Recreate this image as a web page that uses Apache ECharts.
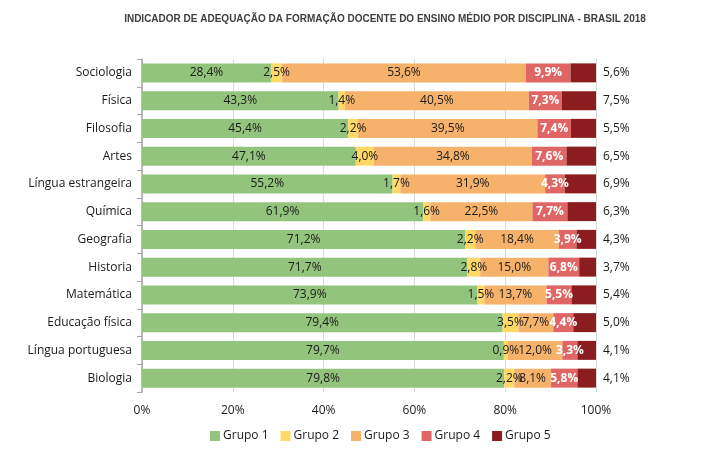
<!DOCTYPE html>
<html>
<head>
<meta charset="utf-8">
<script src="https://cdn.jsdelivr.net/npm/echarts@6/dist/echarts.min.js"></script>
<style>html,body{margin:0;padding:0;background:#fff}#c{width:706px;height:459px}</style>
</head>
<body>
<div id="c"></div>
<script>
const titleText = 'INDICADOR DE ADEQUAÇÃO DA FORMAÇÃO DOCENTE DO ENSINO MÉDIO POR DISCIPLINA - BRASIL 2018';
const categories = ['Sociologia','Física','Filosofia','Artes','Língua estrangeira','Química','Geografia','Historia','Matemática','Educação física','Língua portuguesa','Biologia'];
const seriesNames = ['Grupo 1','Grupo 2','Grupo 3','Grupo 4','Grupo 5'];
const grupo1 = [28.4,43.3,45.4,47.1,55.2,61.9,71.2,71.7,73.9,79.4,79.7,79.8];
const grupo2 = [2.5,1.4,2.2,4.0,1.7,1.6,2.2,2.8,1.5,3.5,0.9,2.2];
const grupo3 = [53.6,40.5,39.5,34.8,31.9,22.5,18.4,15.0,13.7,7.7,12.0,8.1];
const grupo4 = [9.9,7.3,7.4,7.6,4.3,7.7,3.9,6.8,5.5,4.4,3.3,5.8];
const grupo5 = [5.6,7.5,5.5,6.5,6.9,6.3,4.3,3.7,5.4,5.0,4.1,4.1];
const xTicks = [0,20,40,60,80,100];
const colors = ['#93c47d','#ffd966','#f6b26b','#e06666','#8b1c1f'];

const allData = [grupo1,grupo2,grupo3,grupo4,grupo5];
const fmt = p => p.value.toFixed(1).replace('.', ',') + '%';
const font = "'Open Sans', 'Liberation Sans', sans-serif";

const series = allData.map((d,i) => ({
  name: seriesNames[i],
  type: 'bar',
  stack: 'total',
  data: d,
  barWidth: 19,
  itemStyle: {color: colors[i]},
  label: {
    show: true,
    position: i === 4 ? 'right' : 'inside',
    distance: 7,
    formatter: fmt,
    fontFamily: font,
    fontSize: 12,
    color: i === 3 ? '#ffffff' : '#1a1a1a',
    fontWeight: i === 3 ? 'bold' : 'normal'
  },
  emphasis: {disabled: true}
}));

const chart = echarts.init(document.getElementById('c'), null, {renderer: 'canvas'});
chart.setOption({
  animation: false,
  title: {
    text: titleText,
    top: 9,
    left: 380,
    textAlign: 'center',
    textStyle: {fontFamily: "'Liberation Sans', sans-serif", fontSize: 10, fontWeight: 'bold', color: '#404040'}
  },
  legend: {
    bottom: 12,
    left: 205,
    itemWidth: 10,
    itemHeight: 10,
    itemGap: 12,
    icon: 'rect',
    textStyle: {fontFamily: font, fontSize: 12, color: '#1a1a1a', padding: [0,0,0,-2]},
    data: seriesNames
  },
  grid: {left: 142, right: 110, top: 59, bottom: 67, containLabel: false},
  xAxis: {
    type: 'value',
    min: 0, max: 100, interval: 20,
    axisLabel: {formatter: v => xTicks.includes(v) ? v + '%' : '', fontFamily: font, fontSize: 12, color: '#1a1a1a', margin: 13},
    axisLine: {show: false},
    axisTick: {show: false},
    splitLine: {show: true, lineStyle: {color: '#d9d9d9', width: 1}}
  },
  yAxis: {
    type: 'category',
    data: categories,
    inverse: true,
    axisLine: {show: true, lineStyle: {color: '#a6a6a6', width: 1.5}},
    axisTick: {show: true, length: 5, lineStyle: {color: '#a6a6a6'}},
    axisLabel: {fontFamily: font, fontSize: 12, color: '#1a1a1a', margin: 10}
  },
  series: series
});
</script>
</body>
</html>
